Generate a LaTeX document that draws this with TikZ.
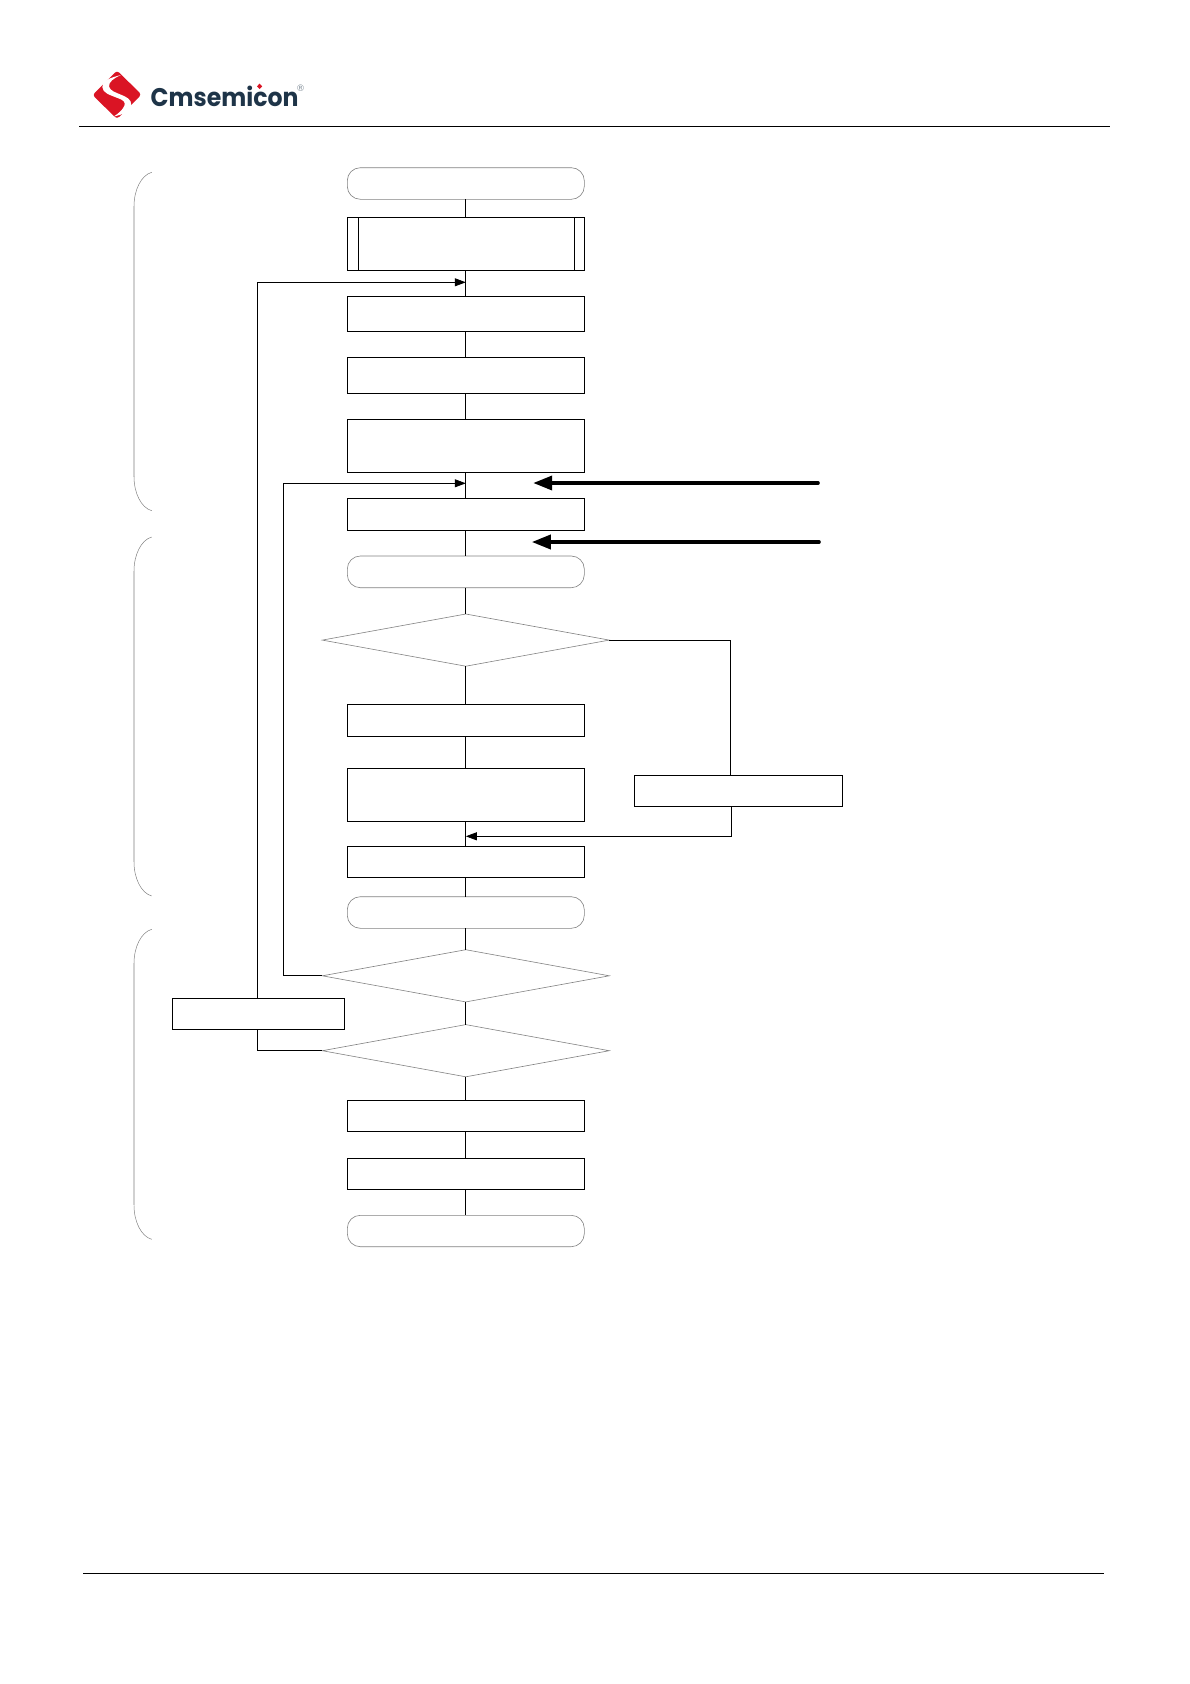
\documentclass[tikz,border=0pt]{standalone}
\usepackage{fontspec}
\setsansfont{Poppins}
\newfontfamily\markfont{DejaVu Sans}
\usetikzlibrary{arrows.meta,shapes.geometric}
\definecolor{logored}{RGB}{218,20,36}
\definecolor{logonavy}{RGB}{30,52,72}
\definecolor{pillgray}{RGB}{130,130,130}
\tikzset{
  procbox/.style={draw=black,fill=white,line width=0.75pt,minimum width=237pt,inner sep=0pt,outer sep=0pt,anchor=north},
  pillbox/.style={draw=pillgray,fill=white,line width=0.6pt,rounded corners=13pt,minimum width=237pt,inner sep=0pt,outer sep=0pt,anchor=north},
  decbox/.style={diamond,draw=pillgray,fill=white,line width=0.6pt,aspect=5.5,minimum width=287pt,minimum height=52.2pt,inner sep=0pt,outer sep=0pt},
  flowline/.style={draw=black,line width=0.75pt},
  flowarrow/.style={flowline,-{Triangle[length=11pt,width=8pt]}},
  notearrow/.style={draw=black,line width=3.6pt,line cap=round,-{Triangle[length=19pt,width=14pt]}},
  bracket/.style={draw=pillgray,line width=0.5pt},
  bracketbar/.style={draw=black!18,line width=1.2pt},
  rulerline/.style={draw=black,line width=0.75pt}
}
\begin{document}
\begin{tikzpicture}[x=1pt,y=-1pt]
  \useasboundingbox (0,0) rectangle (1190,1684);
  % header and footer
  \node[inner sep=0pt] (headl) at (78.3,126.3) {};
  \node[inner sep=0pt] (headr) at (1111,126.3) {};
  \node[inner sep=0pt] (footl) at (82.7,1573.5) {};
  \node[inner sep=0pt] (footr) at (1105,1573.5) {};
  \draw[rulerline] (headl) -- (headr);
  \draw[rulerline] (footl) -- (footr);
  % logo
  \fill[logored,rounded corners=3pt] (117,70.5) -- (141.5,94.5) -- (117,119) -- (92.5,95) -- cycle;
  \fill[white] (121,75) .. controls (109,78) and (102,81) .. (102.3,87)
        .. controls (102.5,93) and (110,95) .. (118.3,98.3)
        .. controls (123,100) and (126,102) .. (124.3,106)
        .. controls (122.5,110) and (118,114) .. (113.3,116.7)
        .. controls (122,114.5) and (131,112) .. (131.3,105)
        .. controls (131.5,99) and (126,97) .. (121.7,95)
        .. controls (116,92.5) and (110,91) .. (109,86.5)
        .. controls (108.5,82) and (114,78) .. (121,75) -- cycle;
  \node[anchor=west,inner sep=0pt,text=logonavy,font=\sffamily\bfseries\fontsize{25.5}{26}\selectfont,xscale=0.925,transform shape] (logotext) at (150.5,96) {Cmsemicon};
  \fill[logored] (259.6,83.6) -- (262.2,86.3) -- (259.6,89) -- (257,86.3) -- cycle;
  \node[inner sep=0pt,text=logonavy!55,font=\markfont\fontsize{9}{9}\selectfont] (logomark) at (300.7,88.3) {®};
  % left brackets
  \foreach \ya/\yb in {172.3/510.7,537/896,929.3/1239.3} {
    \draw[bracket] (151.7,\ya) .. controls (141,\ya+3) and (134,\ya+18) .. (134,\ya+34);
    \draw[bracketbar] (134,\ya+34) -- (134,\yb-34);
    \draw[bracket] (134,\yb-34) .. controls (134,\yb-18) and (141,\yb-3) .. (151.7,\yb);
  }
  % main column
  \node[pillbox,minimum height=31.6pt] (startpill) at (465.8,167.7) {};
  \node[procbox,minimum height=53pt] (initbox) at (465.8,217.3) {};
  \node[procbox,minimum height=35pt] (proca) at (465.8,296.3) {};
  \node[procbox,minimum height=36pt] (procb) at (465.8,357.3) {};
  \node[procbox,minimum height=53pt] (procc) at (465.8,419.3) {};
  \node[procbox,minimum height=32pt] (procd) at (465.8,498.3) {};
  \node[pillbox,minimum height=31.7pt] (midpill) at (465.8,556) {};
  \node[decbox] (deca) at (465.8,640.1) {};
  \node[procbox,minimum height=32pt] (proce) at (465.8,704.3) {};
  \node[procbox,minimum height=53pt] (procf) at (465.8,768.3) {};
  \node[procbox,minimum height=31pt] (procg) at (465.8,846.3) {};
  \node[pillbox,minimum height=31.6pt] (lowpill) at (465.8,896.7) {};
  \node[decbox] (decb) at (465.8,975.8) {};
  \node[decbox] (decc) at (465.8,1050.7) {};
  \node[procbox,minimum height=31pt] (proch) at (465.8,1100.3) {};
  \node[procbox,minimum height=31pt] (proci) at (465.8,1158.3) {};
  \node[pillbox,minimum height=31.4pt] (endpill) at (465.8,1215.3) {};
  % side boxes
  \node[procbox,minimum width=208pt,minimum height=31.3pt] (sideright) at (738,775) {};
  \node[procbox,minimum width=172pt,minimum height=31pt] (sideleft) at (258.3,998.3) {};
  % joints on the main line
  \coordinate (jointa) at (465.8,282.3);
  \coordinate (jointb) at (465.8,483.3);
  \coordinate (jointc) at (465.8,836.3);
  \coordinate (turna) at (257.3,282.3);
  \coordinate (turnb) at (283.3,483.3);
  % thick note arrows
  \coordinate (notea) at (818,483);
  \coordinate (noteatip) at (533.2,483);
  \coordinate (noteb) at (819,542);
  \coordinate (notebtip) at (531.8,542);
  \draw[notearrow] (notea) -- (noteatip);
  \draw[notearrow] (noteb) -- (notebtip);
  % inner bars of the first box
  \draw[flowline] ([xshift=11pt]initbox.north west) -- ([xshift=11pt]initbox.south west);
  \draw[flowline] ([xshift=-10pt]initbox.north east) -- ([xshift=-10pt]initbox.south east);
  % main line
  \draw[flowline] (startpill) -- (initbox);
  \draw[flowline] (initbox) -- (proca);
  \draw[flowline] (proca) -- (procb);
  \draw[flowline] (procb) -- (procc);
  \draw[flowline] (procc) -- (procd);
  \draw[flowline] (procd) -- (midpill);
  \draw[flowline] (midpill) -- (deca);
  \draw[flowline] (deca) -- (proce);
  \draw[flowline] (proce) -- (procf);
  \draw[flowline] (procf) -- (procg);
  \draw[flowline] (procg) -- (lowpill);
  \draw[flowline] (lowpill) -- (decb);
  \draw[flowline] (decb) -- (decc);
  \draw[flowline] (decc) -- (proch);
  \draw[flowline] (proch) -- (proci);
  \draw[flowline] (proci) -- (endpill);
  % branches
  \draw[flowline] (deca.east) -| ([xshift=-7.5pt]sideright.north);
  \draw[flowarrow] ([xshift=-6.6pt]sideright.south) |- (jointc);
  \draw[flowline] (decc.west) -| ([xshift=-1pt]sideleft.south);
  \draw[flowarrow] ([xshift=-1pt]sideleft.north) -- (turna) -- (jointa);
  \draw[flowarrow] (decb.west) -| (turnb) -- (jointb);
\end{tikzpicture}
\end{document}
